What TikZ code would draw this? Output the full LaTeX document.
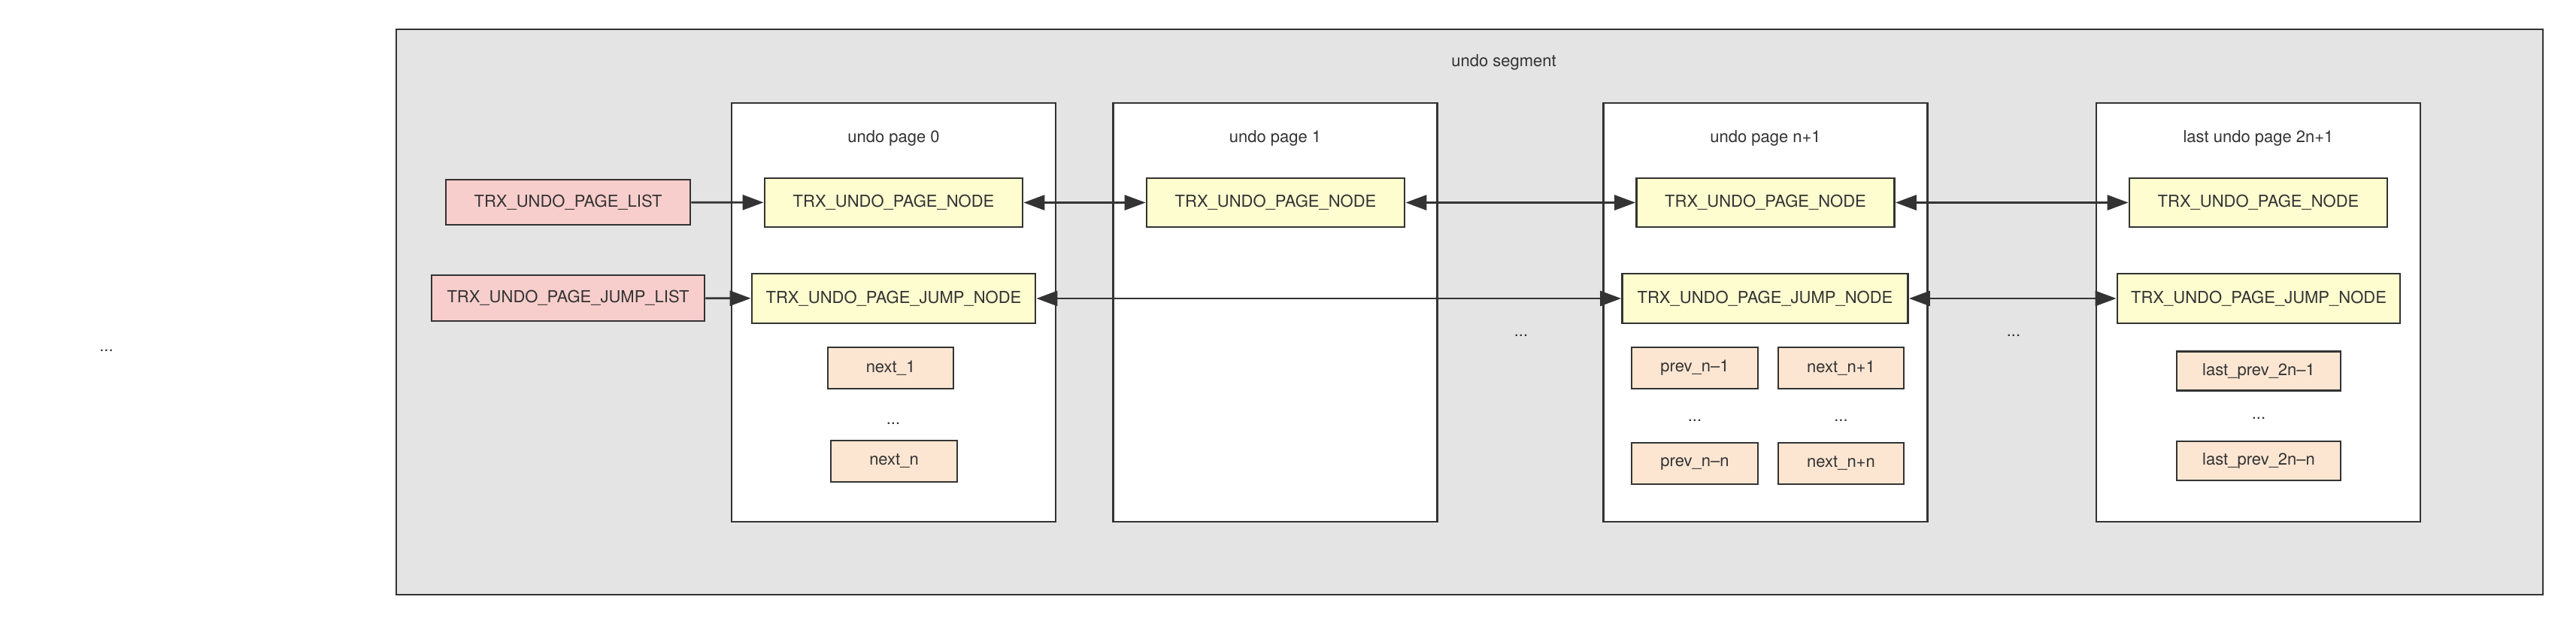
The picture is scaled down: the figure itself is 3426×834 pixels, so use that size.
\documentclass[tikz,border=0pt]{standalone}
\usepackage{fontspec}
\setmainfont{TeX Gyre Heros}
\usetikzlibrary{arrows.meta}
\definecolor{strk}{HTML}{333333}
\definecolor{seg}{HTML}{E4E4E4}
\definecolor{pinkf}{HTML}{F8CECC}
\definecolor{yelf}{HTML}{FDFDD0}
\definecolor{oraf}{HTML}{FCE6D2}
\begin{document}
\begin{tikzpicture}[x=0.5pt,y=-0.5pt,
  every node/.style={font=\fontsize{11}{13}\selectfont, text=strk, inner sep=0pt},
  box/.style={draw=strk, line width=1.4pt, rectangle, anchor=center},
  listbox/.style={box, fill=pinkf},
  nodebox/.style={box, fill=yelf, minimum height=32.5pt},
  smallbox/.style={box, fill=oraf, minimum height=27.5pt},
  pagebox/.style={box, fill=white, minimum width=215.5pt, minimum height=278.5pt},
  conn/.style={draw=strk, line width=1.4pt, -{Triangle[length=14pt,width=10pt]}},
  biconn/.style={draw=strk, line width=1.4pt, {Triangle[length=14pt,width=10pt]}-{Triangle[length=14pt,width=10pt]}},
  lbl/.style={anchor=center}
]
\useasboundingbox (0,0) rectangle (3426,834);
% outer segment
\node[box, fill=seg, minimum width=1427.5pt, minimum height=376pt] (seg) at (1954.5,415) {};
\node[lbl] (segt) at (2000,83) {undo segment};
% pages
\node[pagebox] (p0) at (1188.5,415.5) {};
\node[pagebox] (p1) at (1696,415.5) {};
\node[pagebox] (p2) at (2348,415.5) {};
\node[pagebox] (p3) at (3003.5,415.5) {};
\node[lbl] (t0) at (1188.5,184) {undo page 0};
\node[lbl] (t1) at (1696,184) {undo page 1};
\node[lbl] (t2) at (2348,184) {undo page n+1};
\node[lbl] (t3) at (3003.5,184) {last undo page 2n+1};
% list heads
\node[listbox, minimum width=162.5pt, minimum height=30pt] (list) at (755.5,269) {TRX\_UNDO\_PAGE\_LIST};
\node[listbox, minimum width=181.5pt, minimum height=30.5pt] (jlist) at (755.5,396.5) {TRX\_UNDO\_PAGE\_JUMP\_LIST};
% page nodes
\node[nodebox, minimum width=171.5pt] (n0) at (1188.5,269.5) {TRX\_UNDO\_PAGE\_NODE};
\node[nodebox, minimum width=171.5pt] (n1) at (1696.5,269.5) {TRX\_UNDO\_PAGE\_NODE};
\node[nodebox, minimum width=171.5pt] (n2) at (2348,269.5) {TRX\_UNDO\_PAGE\_NODE};
\node[nodebox, minimum width=171.5pt] (n3) at (3003.5,269.5) {TRX\_UNDO\_PAGE\_NODE};
% jump nodes
\node[nodebox, minimum width=188.5pt, minimum height=33pt] (j0) at (1188.5,397) {TRX\_UNDO\_PAGE\_JUMP\_NODE};
\node[nodebox, minimum width=190pt, minimum height=33pt] (j2) at (2347.5,397) {TRX\_UNDO\_PAGE\_JUMP\_NODE};
\node[nodebox, minimum width=188pt, minimum height=33pt] (j3) at (3004,397) {TRX\_UNDO\_PAGE\_JUMP\_NODE};
% small boxes
\node[smallbox, minimum width=83.5pt] (a1) at (1184.5,489.5) {next\_1};
\node[lbl] (ad) at (1188,563) {...};
\node[smallbox, minimum width=84pt] (an) at (1189,613.5) {next\_n};
\node[smallbox, minimum width=84pt] (b1) at (2254,489.5) {prev\_n–1};
\node[smallbox, minimum width=83.5pt] (c1) at (2448.5,489.5) {next\_n+1};
\node[lbl] (bd) at (2254,559) {...};
\node[lbl] (cd) at (2448.5,559) {...};
\node[smallbox, minimum width=84pt] (bn) at (2254,616.5) {prev\_n–n};
\node[smallbox, minimum width=83.5pt] (cn) at (2448.5,616.5) {next\_n+n};
\node[smallbox, minimum width=109pt, minimum height=26pt] (d1) at (3004,493.5) {last\_prev\_2n–1};
\node[lbl] (dd) at (3004,556) {...};
\node[smallbox, minimum width=109pt, minimum height=26pt] (dn) at (3004,613) {last\_prev\_2n–n};
% gaps
\node[lbl] (g1) at (2023,446) {...};
\node[lbl] (g2) at (2678,446) {...};
\node[lbl] (g0) at (141.5,466) {...};
% connectors
\draw[conn] (list) -- (n0);
\draw[conn] (jlist) -- (j0);
\draw[biconn] (n0) -- (n1);
\draw[biconn] (n1) -- (n2);
\draw[biconn] (n2) -- (n3);
\draw[biconn] (j0) -- (j2);
\draw[biconn] (j2) -- (j3);
\end{tikzpicture}
\end{document}
